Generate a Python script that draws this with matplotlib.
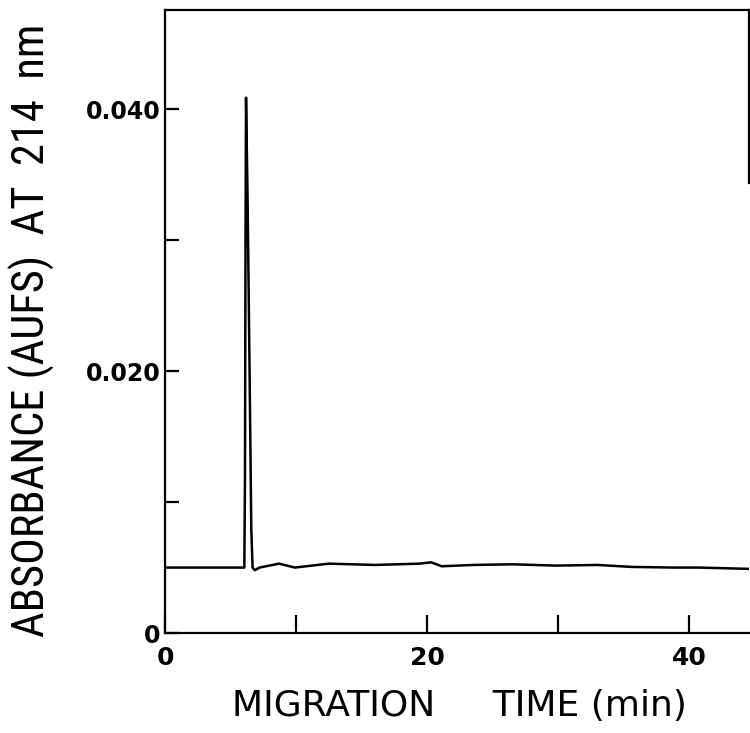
import matplotlib
matplotlib.use('Agg')
import matplotlib.pyplot as plt
from matplotlib.ticker import FixedLocator

# Electropherogram trace (migration time in min, absorbance in AUFS)
time_min = [0, 3.0, 6.05, 6.10, 6.14, 6.18, 6.30, 6.45, 6.58, 6.68, 6.85, 7.2,
            8.7, 9.9, 12.5, 16.0, 19.4, 20.3, 21.1, 23.5, 26.5, 29.8, 33.0,
            35.6, 38.9, 40.7, 44.6]
absorbance = [0.0050, 0.0050, 0.0050, 0.0120, 0.0300, 0.0409, 0.0330, 0.0200,
              0.0080, 0.0050, 0.0048, 0.0050, 0.0053, 0.0050, 0.0053, 0.0052,
              0.0053, 0.0054, 0.0051, 0.0052, 0.00525, 0.00515, 0.0052,
              0.00505, 0.0050, 0.0050, 0.0049]

x_major = [0, 20, 40]
x_minor = [10, 30]
y_major = [0, 0.020, 0.040]
y_major_labels = ['0', '0.020', '0.040']
y_minor = [0.010, 0.030]

fig = plt.figure(figsize=(7.5, 7.33), dpi=100)
ax = fig.add_axes([0.22, 0.1364, 0.778, 0.85])

ax.plot(time_min, absorbance, color='black', lw=1.8, solid_joinstyle='round')

ax.set_xlim(0, 44.5)
ax.set_ylim(0, 0.0476)

for side in ['left', 'bottom', 'top', 'right']:
    ax.spines[side].set_linewidth(1.6)
ax.spines['right'].set_bounds(0.0344, 0.0476)

ax.xaxis.set_major_locator(FixedLocator(x_major))
ax.xaxis.set_minor_locator(FixedLocator(x_minor))
ax.yaxis.set_major_locator(FixedLocator(y_major))
ax.yaxis.set_minor_locator(FixedLocator(y_minor))
ax.set_yticklabels(y_major_labels)

ax.tick_params(axis='x', which='major', direction='in', length=13, width=1.6,
               pad=9, labelsize=18)
ax.tick_params(axis='x', which='minor', direction='in', length=13, width=1.6)
ax.tick_params(axis='y', which='major', direction='in', length=10, width=1.6,
               pad=3, labelsize=17)
ax.tick_params(axis='y', which='minor', direction='in', length=10, width=1.6)
for lab in ax.get_xticklabels() + ax.get_yticklabels():
    lab.set_fontweight('bold')

ax.set_xlabel('MIGRATION     TIME (min)', fontsize=26)
ax.xaxis.set_label_coords(0.505, -0.09)
ax.set_ylabel('ABSORBANCE (AUFS)  AT  214  nm', fontsize=32,
              family=['DejaVu Sans Condensed', 'Roboto Condensed',
                      'Liberation Sans Narrow', 'DejaVu Sans'],
              fontstretch='condensed')
ax.yaxis.set_label_coords(-0.188, 0.486)

fig.savefig('out.png', dpi=100)
